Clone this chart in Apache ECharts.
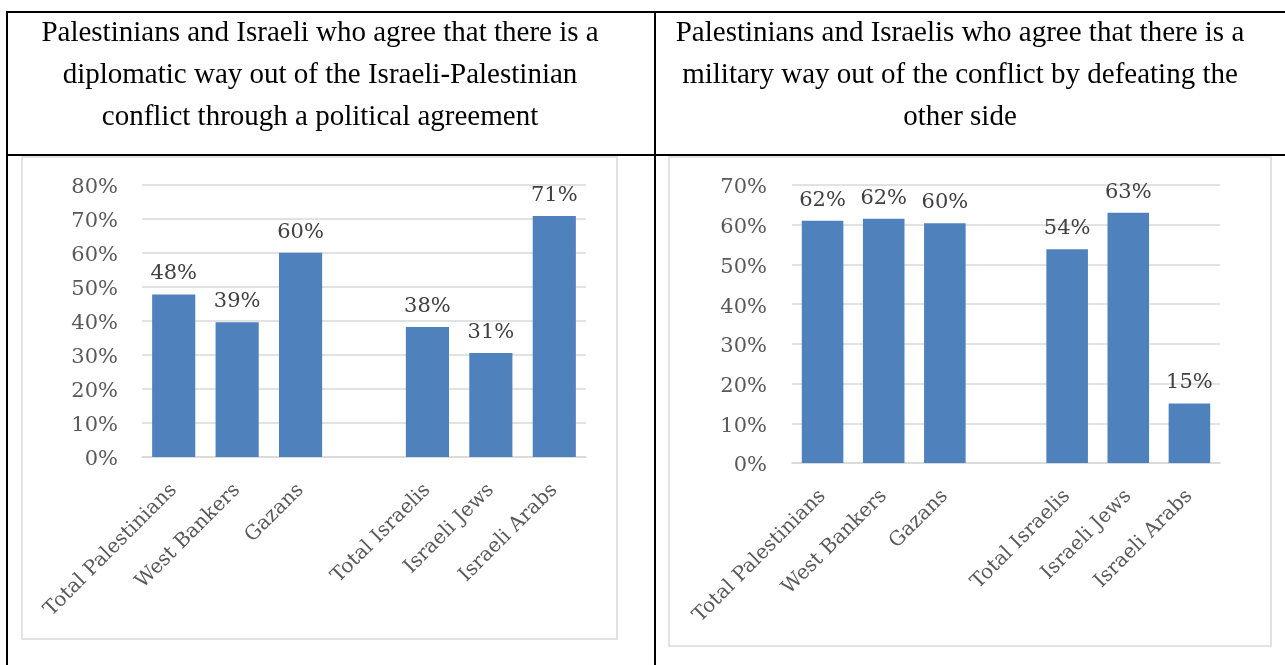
<!DOCTYPE html>
<html>
<head>
<meta charset="utf-8">
<script src="https://cdn.jsdelivr.net/npm/echarts@6/dist/echarts.min.js"></script>
<style>
html,body{margin:0;padding:0;background:#fff;}
#c{width:1285px;height:665px;}
</style>
</head>
<body>
<div id="c"></div>
<script>
// ---- data ----
var categories = ['Total Palestinians', 'West Bankers', 'Gazans', '', 'Total Israelis', 'Israeli Jews', 'Israeli Arabs'];
var diplomaticValues = [47.8, 39.6, 60.1, null, 38.2, 30.6, 70.9];
var diplomaticLabels = ['48%', '39%', '60%', '', '38%', '31%', '71%'];
var militaryValues = [61.0, 61.5, 60.4, null, 53.8, 63.0, 15.0];
var militaryLabels = ['62%', '62%', '60%', '', '54%', '63%', '15%'];
var diplomaticTicks = [0, 10, 20, 30, 40, 50, 60, 70, 80];
var militaryTicks = [0, 10, 20, 30, 40, 50, 60, 70];
var titleLeft = ['Palestinians and Israeli who agree that there is a',
                 'diplomatic way out of the Israeli-Palestinian',
                 'conflict through a political agreement'];
var titleRight = ['Palestinians and Israelis who agree that there is a',
                  'military way out of the conflict by defeating the',
                  'other side'];

var chart = echarts.init(document.getElementById('c'), null, {renderer: 'canvas'});
var labelFont = 'DejaVu Serif';
var titleFont = 'Liberation Serif';
var barColor = '#4f81bd';
var textColor = '#595959';

function mkData(vals, labels) {
  return vals.map(function (v, i) {
    if (v === null) return '-';
    return {value: v, label: {formatter: labels[i]}};
  });
}

function titleGraphics(lines, cx) {
  return lines.map(function (t, i) {
    return {
      type: 'text', x: cx, y: 33 + i * 42,
      style: {text: t, fill: '#000', font: '29px "' + titleFont + '"', textAlign: 'center', textVerticalAlign: 'middle'}
    };
  });
}

var lineStyle = {stroke: '#000', lineWidth: 2};
var graphics = [
  {type: 'line', shape: {x1: 6, y1: 12, x2: 1285, y2: 12}, style: lineStyle},
  {type: 'line', shape: {x1: 6, y1: 155, x2: 1285, y2: 155}, style: lineStyle},
  {type: 'line', shape: {x1: 7, y1: 11, x2: 7, y2: 665}, style: lineStyle},
  {type: 'line', shape: {x1: 655, y1: 11, x2: 655, y2: 665}, style: lineStyle},
  {type: 'rect', shape: {x: 22, y: 157, width: 595, height: 482}, style: {fill: null, stroke: '#d9d9d9', lineWidth: 1.5}},
  {type: 'rect', shape: {x: 669, y: 157, width: 602, height: 489}, style: {fill: null, stroke: '#d9d9d9', lineWidth: 1.5}}
].concat(titleGraphics(titleLeft, 320)).concat(titleGraphics(titleRight, 960));

function yAxis(gridIndex, max, margin) {
  return {
    gridIndex: gridIndex, type: 'value', min: 0, max: max, interval: 10,
    axisLine: {show: false}, axisTick: {show: false},
    splitLine: {lineStyle: {color: '#d9d9d9', width: 1.5}},
    axisLabel: {
      formatter: '{t|{value}%}', margin: margin,
      rich: {t: {color: textColor, fontFamily: labelFont, fontSize: 21, padding: [6, 0, 0, 0]}}
    }
  };
}
function xAxis(gridIndex) {
  return {
    gridIndex: gridIndex, type: 'category', data: categories,
    axisLine: {lineStyle: {color: '#d9d9d9', width: 1.5}}, axisTick: {show: false},
    axisLabel: {rotate: 45, interval: 0, color: textColor, fontFamily: labelFont, fontSize: 20, margin: 30}
  };
}
function barSeries(idx, vals, labels) {
  return {
    type: 'bar', xAxisIndex: idx, yAxisIndex: idx, data: mkData(vals, labels),
    barCategoryGap: '32%', itemStyle: {color: barColor},
    label: {show: true, position: 'top', distance: 10, color: '#404040', fontFamily: labelFont, fontSize: 21}
  };
}

chart.setOption({
  animation: false,
  graphic: graphics,
  grid: [
    {left: 142, top: 185, width: 444, height: 272},
    {left: 792, top: 185, width: 428, height: 278}
  ],
  xAxis: [xAxis(0), xAxis(1)],
  yAxis: [yAxis(0, 80, 24), yAxis(1, 70, 25)],
  series: [barSeries(0, diplomaticValues, diplomaticLabels), barSeries(1, militaryValues, militaryLabels)]
});
</script>
</body>
</html>
